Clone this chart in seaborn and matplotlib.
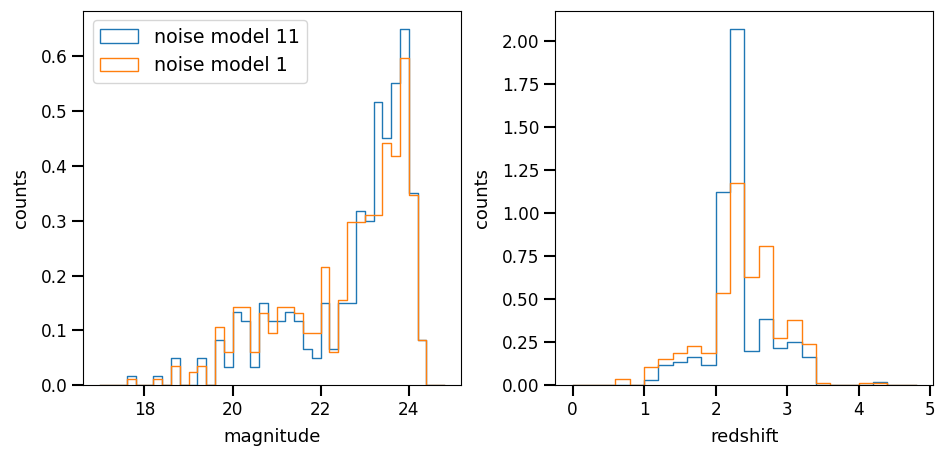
import numpy as np
import pandas as pd
import matplotlib.pyplot as plt
import seaborn as sns
from matplotlib.patches import Patch

# magnitude histogram, 0.2 mag bins from 17.0 to 24.8 (density)
mag_edges = np.round(np.arange(17.0, 24.81, 0.2), 1)
mag_nm11 = [0, 0, 0, 0.0167, 0, 0, 0.0167, 0, 0.050, 0, 0, 0.050, 0,
            0.083, 0.033, 0.133, 0.117, 0.033, 0.150, 0.117, 0.117, 0.133, 0.117,
            0.067, 0.050, 0.150, 0.067, 0.150, 0.150, 0.317, 0.300, 0.517, 0.450,
            0.550, 0.650, 0.350, 0.083, 0, 0]
mag_nm1 = [0, 0, 0, 0.012, 0, 0, 0.012, 0, 0.036, 0, 0.024, 0.036, 0,
           0.107, 0.060, 0.143, 0.143, 0.060, 0.131, 0.095, 0.143, 0.143, 0.131,
           0.095, 0.095, 0.215, 0.060, 0.155, 0.298, 0.298, 0.310, 0.310, 0.441,
           0.417, 0.596, 0.346, 0.083, 0, 0]

# redshift histogram, 0.2 bins from 0 to 4.8 (density)
z_edges = np.round(np.arange(0.0, 4.81, 0.2), 1)
z_nm11 = [0, 0, 0, 0, 0, 0.033, 0.117, 0.133, 0.167, 0.117, 1.125, 2.075,
          0.200, 0.383, 0.217, 0.250, 0.167, 0, 0, 0, 0, 0.017, 0, 0]
z_nm1 = [0, 0, 0, 0.036, 0, 0.107, 0.155, 0.190, 0.226, 0.190, 0.536, 1.179,
         0.631, 0.810, 0.274, 0.381, 0.238, 0.012, 0, 0, 0.012, 0.012, 0, 0]

labels = ["noise model 11", "noise model 1"]
colors = ["C0", "C1"]

fig, axes = plt.subplots(1, 2, figsize=(9.45, 4.57), dpi=100)
fig.subplots_adjust(left=0.0881, right=0.9876, bottom=0.1569, top=0.9766, wspace=0.249)

panels = [
    (axes[0], mag_edges, [mag_nm11, mag_nm1], "magnitude"),
    (axes[1], z_edges, [z_nm11, z_nm1], "redshift"),
]
for ax, edges, series, xlabel in panels:
    centers = (edges[:-1] + edges[1:]) / 2
    for vals, c in zip(series, colors):
        df = pd.DataFrame({"x": centers, "w": vals})
        sns.histplot(data=df, x="x", weights="w", bins=list(edges), element="step",
                     fill=False, color=c, linewidth=1.0, ax=ax)
    span = edges[-1] - edges[0]
    ax.set_xlim(edges[0] - 0.05 * span, edges[-1] + 0.05 * span)
    ax.set_ylim(0, max(max(s) for s in series) * 1.05)
    ax.set_xlabel(xlabel, fontsize=13, labelpad=6.5)
    ax.set_ylabel("counts", fontsize=13, labelpad=7.5)
    ax.tick_params(length=8, width=1.5, labelsize=12.2)

handles = [Patch(facecolor="none", edgecolor=c, linewidth=1.0) for c in colors]
axes[0].legend(handles, labels, loc="upper left", fontsize=13.7)

fig.savefig("out.png", dpi=100)
